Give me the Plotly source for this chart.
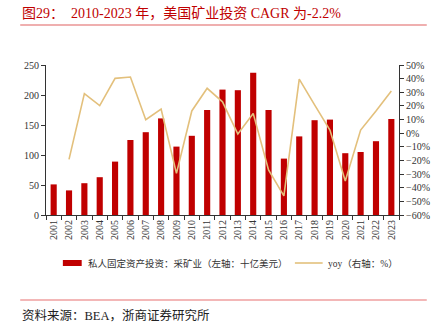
import plotly.graph_objects as go

years = [str(y) for y in range(2001, 2024)]
invest = [51, 41, 53, 63, 89, 125, 138, 161, 114, 132, 175, 209, 208, 237, 175, 94, 131, 158, 159, 103, 105, 123, 160]
yoy = [None, -19.2, 29, 20.2, 40.2, 41.2, 9.9, 17.7, -29.5, 16.3, 32.9, 23, -0.6, 14.5, -27, -46, 39.7, 20.7, 2.3, -35, 2.3, 16.3, 31]
bar_name = "私人固定资产投资：采矿业（左轴：十亿美元）"
line_name = "yoy（右轴：%）"

FONT = "Liberation Serif, Noto Sans CJK SC, serif"
RED = "#c00000"
TAN = "#e3c07c"

fig = go.Figure()
fig.add_trace(go.Bar(x=years, y=invest, name=bar_name,
                     marker=dict(color=RED, line=dict(width=0)), width=0.4, showlegend=False))
fig.add_trace(go.Scatter(x=years, y=yoy, name=line_name, yaxis="y2", mode="lines",
                         line=dict(color=TAN, width=1.6), connectgaps=False, showlegend=False))

W, H = 442, 330
L, R, T, B = 46, 40, 65, 115
ph = H - T - B
pw = W - L - R

def py(p):
    return (H - B - p) / ph

def px(p):
    return (p - L) / pw

fig.update_layout(
    width=W, height=H,
    margin=dict(l=L, r=R, t=T, b=B),
    paper_bgcolor="white", plot_bgcolor="white",
    font=dict(family=FONT, size=10, color="#333333"),
    showlegend=False,
    xaxis=dict(type="category", showline=True, linecolor="#333333", linewidth=1,
               ticks="outside", tickson="boundaries", ticklen=4, tickcolor="#333333",
               tickangle=-90, tickfont=dict(size=10, color="#333333"), showgrid=False,
               range=[-0.5, 22.5]),
    yaxis=dict(range=[0, 250], dtick=50, showline=True, linecolor="#333333", linewidth=1,
               ticks="outside", ticklen=4, tickcolor="#333333", showgrid=False, zeroline=False,
               tickfont=dict(size=10, color="#333333")),
    yaxis2=dict(range=[-60, 50], dtick=10, overlaying="y", side="right", showline=True,
                linecolor="#333333", linewidth=1, ticks="outside", ticklen=4, tickcolor="#333333",
                ticksuffix="%", showgrid=False, zeroline=False,
                tickfont=dict(size=10, color="#333333")),
)

# manual legend
ly = 263
fig.add_shape(type="rect", xref="paper", yref="paper", x0=px(63), x1=px(82), y0=py(ly - 3), y1=py(ly + 3),
              fillcolor=RED, line=dict(width=0))
fig.add_annotation(text=bar_name, xref="paper", yref="paper", x=px(86), y=py(ly), xanchor="left",
                   yanchor="middle", showarrow=False, font=dict(family=FONT, size=9.5, color="#333333"))
fig.add_shape(type="line", xref="paper", yref="paper", x0=px(297), x1=px(325), y0=py(ly), y1=py(ly),
              line=dict(color=TAN, width=1.6))
fig.add_annotation(text=line_name, xref="paper", yref="paper", x=px(328), y=py(ly), xanchor="left",
                   yanchor="middle", showarrow=False, font=dict(family=FONT, size=9.5, color="#333333"))

fig.add_annotation(text="图29：  2010-2023 年，美国矿业投资 CAGR 为-2.2%", xref="paper", yref="paper",
                   x=px(20), y=py(13), xanchor="left", yanchor="middle", showarrow=False,
                   font=dict(family=FONT, size=14, color=RED))
fig.add_annotation(text="资料来源：BEA，浙商证券研究所", xref="paper", yref="paper",
                   x=px(20), y=py(315), xanchor="left", yanchor="middle", showarrow=False,
                   font=dict(family=FONT, size=12.5, color="#222222"))
fig.add_shape(type="line", xref="paper", yref="paper", x0=px(20), x1=px(430), y0=py(25), y1=py(25),
              line=dict(color="#e06060", width=1.2))
fig.add_shape(type="line", xref="paper", yref="paper", x0=px(20), x1=px(430), y0=py(300), y1=py(300),
              line=dict(color="#e87070", width=1.2))

fig.write_html("out.html")
